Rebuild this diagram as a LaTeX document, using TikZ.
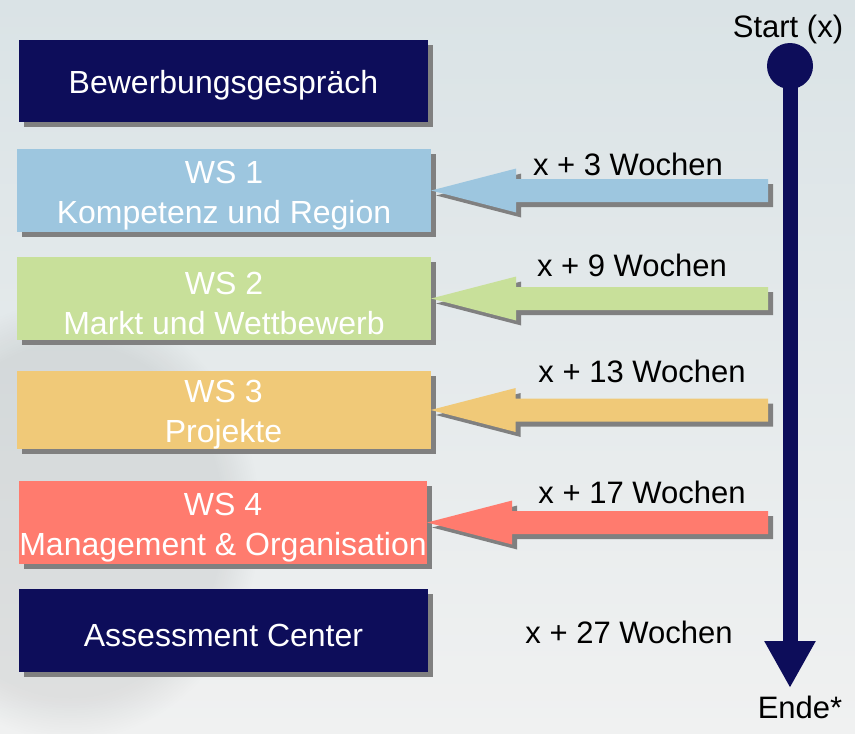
\documentclass[tikz,border=0pt]{standalone}
\usepackage{fontspec}
\setmainfont{Liberation Sans}
\usetikzlibrary{arrows.meta, calc, shadows, fadings}

\definecolor{navy}{HTML}{0D0D5A}
\definecolor{wsblue}{HTML}{9DC6DF}
\definecolor{wsgreen}{HTML}{C8E09A}
\definecolor{wsyellow}{HTML}{F0C978}
\definecolor{wsred}{HTML}{FF7B6E}
\definecolor{shadowgray}{HTML}{808080}
\definecolor{bgtop}{HTML}{DAE3E6}
\definecolor{bgbot}{HTML}{F0F1F1}

% taller first line, sets the box text a bit lower
\newcommand{\boxstrut}{\rule{0pt}{32pt}}

% block arrow from the time line to a box
\newcommand{\wsarrow}[2]{%
  \path[wsarrow=#2] let \p1=(#1.east), \p2=(tail) in
    (\p1) -- (\x1+85pt,\y1+22pt) -- (\x1+85pt,\y1+11.5pt) -- (\x2,\y1+11.5pt)
    -- (\x2,\y1-11.5pt) -- (\x1+85pt,\y1-11.5pt) -- (\x1+85pt,\y1-22pt) -- cycle;}

\begin{document}
\begin{tikzpicture}[
    x=1pt, y=-1pt,
    box/.style={rectangle, fill=#1, text=white, minimum width=410, minimum height=83,
      inner sep=0pt, align=center, font=\fontsize{32}{40}\selectfont,
      general shadow={fill=shadowgray, shadow xshift=5pt, shadow yshift=-5pt}},
    wsarrow/.style={fill=#1,
      general shadow={fill=shadowgray, shadow xshift=5pt, shadow yshift=-5pt}},
    label/.style={anchor=base, inner sep=0pt, text=black, font=\fontsize{31}{36}\selectfont}
]

% Background
\useasboundingbox (0,0) rectangle (855,734);
\shade[top color=bgtop, bottom color=bgbot] (0,0) rectangle (855,734);
\fill[black, opacity=0.07, path fading=circle with fuzzy edge 20 percent] (-120,300) rectangle (260,740);

% Boxes
\node[box=navy, minimum width=409, minimum height=82] (bew) at (223.5,81) {\boxstrut Bewerbungsgespräch};
\node[box=wsblue, minimum width=414] (ws1) at (224,190.5) {\boxstrut WS 1\\Kompetenz und Region};
\node[box=wsgreen, minimum width=414] (ws2) at (224,298.5) {\boxstrut WS 2\\Markt und Wettbewerb};
\node[box=wsyellow, minimum width=414, minimum height=76] (ws3) at (223.5,410) {\boxstrut WS 3\\Projekte};
\node[box=wsred, minimum width=408] (ws4) at (223,522.5) {\boxstrut WS 4\\Management \& Organisation};
\node[box=navy, minimum width=409] (ac) at (223.5,630.5) {\boxstrut Assessment Center};

% Time line
\node[circle, fill=navy, minimum size=46, inner sep=0pt] (dot) at (790,66) {};
\coordinate (ende) at (790,688);
\coordinate (tail) at (768,0);
\draw[navy, line width=15pt, -{Triangle[width=48pt, length=47pt]}] (dot.center) -- (ende);
\node[label] (start) at (788,37) {Start (x)};
\node[label] (endlbl) at (800,718) {Ende*};

% Arrows with weeks
\wsarrow{ws1}{wsblue}
\wsarrow{ws2}{wsgreen}
\wsarrow{ws3}{wsyellow}
\wsarrow{ws4}{wsred}
\node[label] (w3) at (628,175) {x + 3 Wochen};
\node[label] (w9) at (632,276) {x + 9 Wochen};
\node[label] (w13) at (642,382) {x + 13 Wochen};
\node[label] (w17) at (642,503) {x + 17 Wochen};
\node[label] (w27) at (629,643) {x + 27 Wochen};

\end{tikzpicture}
\end{document}
